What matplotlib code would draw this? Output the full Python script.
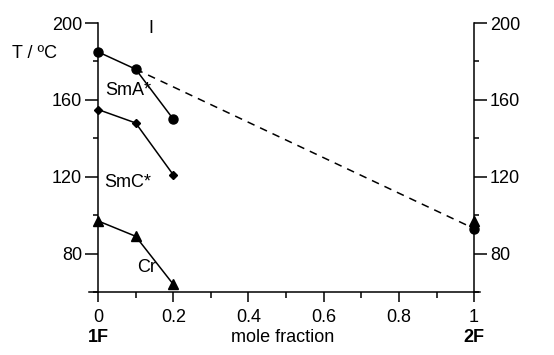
import matplotlib.pyplot as plt
from matplotlib.ticker import MultipleLocator

plt.rcParams['font.family'] = ['Liberation Sans', 'DejaVu Sans']
plt.rcParams['font.size'] = 13

# mole fraction of 2F
x_lc = [0, 0.1, 0.2]
t_iso_sma = [185, 176, 150]      # I -> SmA*
t_sma_smc = [155, 148, 121]      # SmA* -> SmC*
t_cr = [97, 89, 64]              # melting

# extrapolated clearing line towards pure 2F
x_dash = [0.1, 1.0]
t_dash = [176, 93]
x_2f = [1.0]
t_2f_iso = [93]
t_2f_cr = [97]

phase_labels = ['I', 'SmA*', 'SmC*', 'Cr']
phase_pos = [(0.14, 197), (0.08, 165), (0.08, 117), (0.13, 73)]

fig = plt.figure(figsize=(5.54, 3.55), dpi=100)
ax = fig.add_axes([0.16, 0.1775, 0.706, 0.7575])

ax.plot(x_lc, t_iso_sma, '-o', color='black', lw=1.1, ms=6.5)
ax.plot(x_lc, t_sma_smc, '-D', color='black', lw=1.1, ms=4.2)
ax.plot(x_lc, t_cr, '-^', color='black', lw=1.1, ms=6.5)
ax.plot(x_dash, t_dash, '--', color='black', lw=1.1, dashes=(5, 4))
ax.plot(x_2f, t_2f_cr, '^', color='black', ms=6.5)
ax.plot(x_2f, t_2f_iso, 'o', color='black', ms=6.5)

for lab, (px, py) in zip(phase_labels, phase_pos):
    ax.text(px, py, lab, ha='center', va='center')

ax.set_xlim(-0.025, 1.015)
ax.set_ylim(60, 200)

ax.spines['top'].set_visible(False)
ax.spines['left'].set_position(('data', 0))
ax.spines['right'].set_position(('data', 1))
for s in ['left', 'right', 'bottom']:
    ax.spines[s].set_linewidth(1.1)

ax.xaxis.set_minor_locator(MultipleLocator(0.1))
ax.yaxis.set_minor_locator(MultipleLocator(20))
ax.set_xticks([0, 0.2, 0.4, 0.6, 0.8, 1])
ax.set_xticklabels(['0', '0.2', '0.4', '0.6', '0.8', '1'])
ax.set_yticks([80, 120, 160, 200])

ax.tick_params(axis='both', which='both', direction='out', width=1.1, labelsize=13)
ax.tick_params(axis='y', which='major', length=9.5, pad=2)
ax.tick_params(axis='y', which='minor', length=3.6)
ax.tick_params(axis='x', which='major', length=7.5, pad=5)
ax.tick_params(axis='x', which='minor', length=4)
ax.tick_params(axis='y', which='both', left=True, right=True, labelleft=True, labelright=True)

ax.text(-0.168, 184, 'T / ºC', ha='center', va='center')
ax.text(0, -0.17, '1F', transform=ax.get_xaxis_transform(), ha='center', va='center',
        fontweight='bold')
ax.text(1, -0.17, '2F', transform=ax.get_xaxis_transform(), ha='center', va='center',
        fontweight='bold')
ax.text(0.49, -0.17, 'mole fraction', transform=ax.get_xaxis_transform(), ha='center',
        va='center')

fig.savefig('out.png', dpi=100)
